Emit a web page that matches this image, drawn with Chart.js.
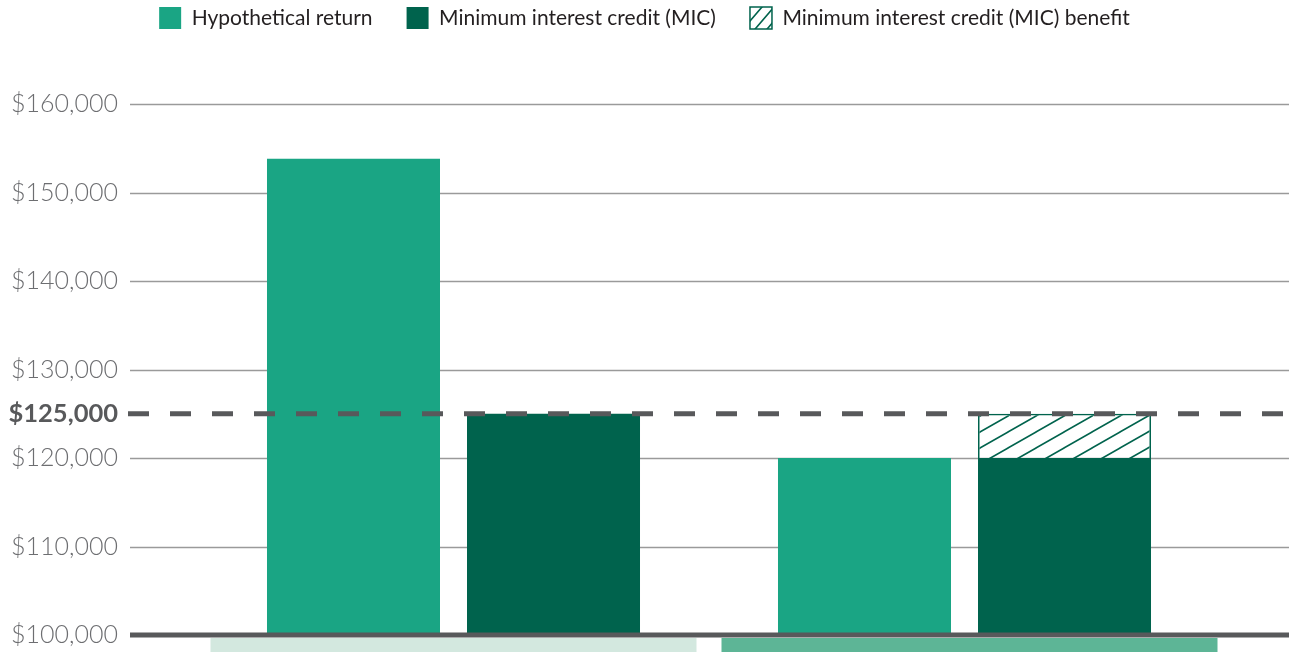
<!DOCTYPE html>
<html>
<head>
<meta charset="utf-8">
<script src="https://cdn.jsdelivr.net/npm/chart.js@4.4.0/dist/chart.umd.min.js"></script>
<style>
  html, body { margin: 0; padding: 0; background: #fff; }
  #wrap { width: 1289px; height: 652px; }
</style>
</head>
<body>
<div id="wrap"><canvas id="myChart"></canvas></div>
<script>
// values
const categories = ['Strong market', 'Weak market'];
const hypotheticalReturn = [153800, 120000];
const minimumInterestCredit = [125000, 120000];
const micBenefit = [null, 5000];
const yTicks = [100000, 110000, 120000, 125000, 130000, 140000, 150000, 160000];
const guaranteeLevel = 125000;

const TEAL = '#1aa584';
const DARK = '#00634d';
const AXIS = '#58595b';
const bandColors = ['#d3e8df', '#5db596'];

// diagonal hatch tile, lines y = -x*h/w + m*h
function makeHatch(w, h, color, lw) {
  const c = document.createElement('canvas');
  c.width = w; c.height = h;
  const g = c.getContext('2d');
  g.strokeStyle = color;
  g.lineWidth = lw;
  g.beginPath();
  for (let m = 0; m <= 2; m++) {
    g.moveTo(-w, h + m * h);
    g.lineTo(2 * w, -2 * h + m * h);
  }
  g.stroke();
  return g.createPattern(c, 'repeat');
}
const barHatch = makeHatch(28, 16, DARK, 1.6);
const legendHatch = makeHatch(12, 14, DARK, 1.6);

const fmt = v => '$' + v.toLocaleString('en-US');

// extra room between the legend row and the plot
const legendGap = {
  id: 'legendGap',
  beforeInit(chart) {
    const legend = chart.legend;
    const fit = legend.fit;
    legend.fit = function () {
      fit.call(this);
      this.height += 65;
    };
  }
};

// grid lines, guarantee line, baseline and the bands under the axis
const decor = {
  id: 'decor',
  beforeDatasetsDraw(chart) {
    const {ctx} = chart;
    const y = chart.scales.y;
    ctx.save();
    ctx.strokeStyle = '#9a9a9a';
    ctx.lineWidth = 1.5;
    yTicks.forEach(v => {
      if (v === guaranteeLevel || v === y.min) return;
      const py = Math.round(y.getPixelForValue(v)) + 0.5;
      ctx.beginPath();
      ctx.moveTo(130, py);
      ctx.lineTo(chart.width, py);
      ctx.stroke();
    });
    ctx.restore();
  },
  afterDatasetsDraw(chart) {
    const {ctx} = chart;
    const x = chart.scales.x;
    const y = chart.scales.y;
    ctx.save();
    // $125,000 dashed line
    const gy = y.getPixelForValue(guaranteeLevel);
    ctx.strokeStyle = AXIS;
    ctx.lineWidth = 5;
    ctx.setLineDash([21, 21]);
    ctx.beginPath();
    ctx.moveTo(128, gy);
    ctx.lineTo(chart.width, gy);
    ctx.stroke();
    ctx.setLineDash([]);
    // baseline
    const by = y.getPixelForValue(y.min);
    ctx.beginPath();
    ctx.moveTo(130, by);
    ctx.lineTo(chart.width, by);
    ctx.stroke();
    // bands
    categories.forEach((c, i) => {
      const cx = x.getPixelForValue(i);
      ctx.fillStyle = bandColors[i];
      ctx.fillRect(cx - 243, by + 3, 486 + i * 10, chart.height - by);
    });
    ctx.restore();
  }
};

const ctx = document.getElementById('myChart');
const myChart = new Chart(ctx, {
  type: 'bar',
  data: {
    labels: categories,
    datasets: [{
      label: 'Hypothetical return',
      data: hypotheticalReturn,
      backgroundColor: TEAL,
      stack: 'a',
      borderWidth: 0
    }, {
      label: 'Minimum interest credit (MIC)',
      data: minimumInterestCredit,
      backgroundColor: DARK,
      stack: 'b',
      borderWidth: 0
    }, {
      label: 'Minimum interest credit (MIC) benefit',
      data: micBenefit,
      backgroundColor: barHatch,
      borderColor: DARK,
      borderWidth: 1.5,
      borderSkipped: 'bottom',
      stack: 'b'
    }]
  },
  options: {
    responsive: true,
    maintainAspectRatio: false,
    animation: false,
    categoryPercentage: 0.7828,
    barPercentage: 0.865,
    layout: { padding: { top: -27, right: 0, bottom: 17, left: 0 } },
    plugins: {
      tooltip: { enabled: false },
      legend: {
        position: 'top',
        labels: {
          font: { family: 'Lato', size: 21 },
          color: '#231f20',
          boxWidth: 22,
          boxHeight: 22,
          padding: 34,
          generateLabels(chart) {
            const items = Chart.defaults.plugins.legend.labels.generateLabels(chart);
            items.forEach(it => {
              if (it.datasetIndex === 2) {
                it.fillStyle = legendHatch;
                it.strokeStyle = DARK;
                it.lineWidth = 1.5;
              } else {
                it.lineWidth = 0;
              }
            });
            return items;
          }
        }
      }
    },
    scales: {
      x: {
        display: false,
        stacked: true
      },
      y: {
        stacked: true,
        min: 100000,
        max: 160000,
        afterBuildTicks(scale) {
          scale.ticks = yTicks.map(v => ({ value: v }));
        },
        afterFit(scale) {
          scale.width = 198;
        },
        grid: { display: false, drawTicks: true, tickLength: 80 },
        border: { display: false },
        ticks: {
          padding: 0,
          color: ctx => ctx.tick && ctx.tick.value === guaranteeLevel ? AXIS : '#6d6e71',
          font: ctx => ctx.tick && ctx.tick.value === guaranteeLevel
            ? { family: 'Lato', size: 25.5, weight: 'bold' }
            : { family: 'Lato', size: 25, weight: '300' },
          callback: v => fmt(v)
        }
      },
      // empty right gutter
      y2: {
        position: 'right',
        grid: { display: false, drawTicks: false },
        border: { display: false },
        ticks: { display: false },
        afterFit(scale) {
          scale.width = 69;
        }
      }
    }
  },
  plugins: [legendGap, decor]
});
</script>
</body>
</html>
